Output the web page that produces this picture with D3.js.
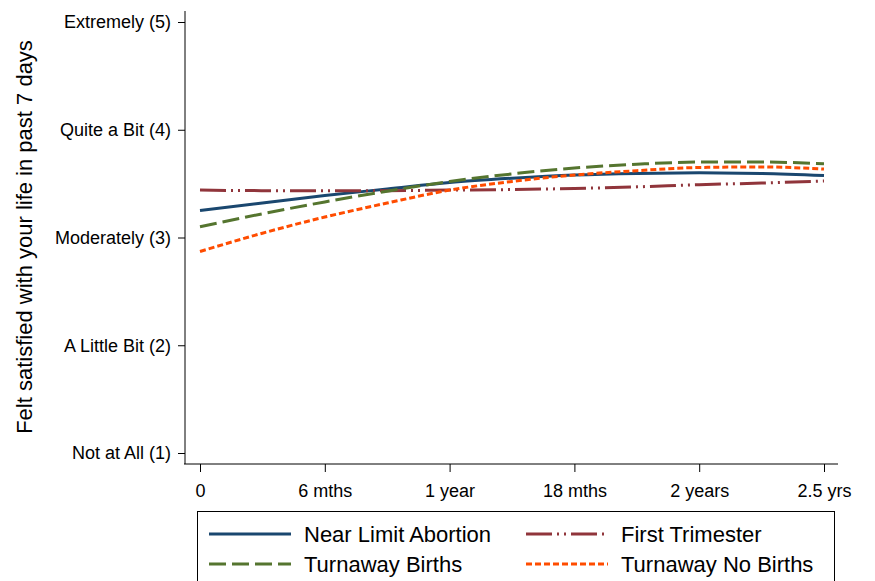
<!DOCTYPE html>
<html>
<head>
<meta charset="utf-8">
<script src="https://cdn.jsdelivr.net/npm/d3@7"></script>
<style>
  body { margin: 0; background: #fff; }
  text { font-family: "Liberation Sans", Arial, sans-serif; fill: #000; }
</style>
</head>
<body>
<script>
// months since baseline
var months = [0, 3, 6, 9, 12, 15, 18, 21, 24, 27, 30];
var xTicks = [0, 6, 12, 18, 24, 30];
var xTickLabels = ['0', '6 mths', '1 year', '18 mths', '2 years', '2.5 yrs'];
var yTicks = [1, 2, 3, 4, 5];
var yTickLabels = ['Not at All (1)', 'A Little Bit (2)', 'Moderately (3)', 'Quite a Bit (4)', 'Extremely (5)'];

var nearLimit = [3.25, 3.32, 3.39, 3.45, 3.51, 3.55, 3.58, 3.595, 3.60, 3.595, 3.575];
var firstTri = [3.44, 3.435, 3.435, 3.435, 3.44, 3.445, 3.455, 3.47, 3.49, 3.505, 3.525];
var turnBirths = [3.10, 3.22, 3.33, 3.43, 3.52, 3.59, 3.645, 3.68, 3.70, 3.70, 3.685];
var turnNoBirths = [2.87, 3.04, 3.19, 3.32, 3.44, 3.52, 3.58, 3.62, 3.65, 3.655, 3.635];

var series = [
  {name: 'Near Limit Abortion', values: nearLimit, color: '#1a476f', dash: null},
  {name: 'First Trimester', values: firstTri, color: '#90353b', dash: '26,5,2,5,2,5'},
  {name: 'Turnaway Births', values: turnBirths, color: '#55752f', dash: '17,6'},
  {name: 'Turnaway No Births', values: turnNoBirths, color: '#ff4c00', dash: '6,3'}
];

var w = 875, h = 581;
var svg = d3.select('body').append('svg')
    .attr('width', w)
    .attr('height', h);

var x = d3.scaleLinear().domain([0, 30]).range([200, 824]);
var y = d3.scaleLinear().domain([1, 5]).range([453, 22]);

// y axis
var yAxis = d3.axisLeft(y)
    .tickValues(yTicks)
    .tickSize(7)
    .tickPadding(7)
    .tickFormat(function(d, i){ return yTickLabels[i]; });
var gy = svg.append('g').attr('transform', 'translate(185,0)').call(yAxis);
gy.select('.domain').attr('d', 'M0,11V464');
gy.selectAll('text').attr('font-size', '18px');

// x axis
var xAxis = d3.axisBottom(x)
    .tickValues(xTicks)
    .tickSize(8)
    .tickPadding(12)
    .tickFormat(function(d, i){ return xTickLabels[i]; });
var gx = svg.append('g').attr('transform', 'translate(0,464)').call(xAxis);
gx.select('.domain').attr('d', 'M184,0H838');
gx.selectAll('text').attr('font-size', '18px');
svg.selectAll('.domain, .tick line').attr('stroke', '#000');

// y title
svg.append('text')
    .attr('transform', 'translate(32,237) rotate(-90)')
    .attr('text-anchor', 'middle')
    .attr('font-size', '22px')
    .text('Felt satisfied with your life in past 7 days');

// lines
var line = d3.line()
    .x(function(d, i){ return x(months[i]); })
    .y(function(d){ return y(d); })
    .curve(d3.curveMonotoneX);

svg.selectAll('path.series')
    .data(series)
    .enter()
    .append('path')
    .attr('class', 'series')
    .attr('d', function(d){ return line(d.values); })
    .attr('fill', 'none')
    .attr('stroke', function(d){ return d.color; })
    .attr('stroke-width', 3)
    .attr('stroke-dasharray', function(d){ return d.dash; });

// legend
var leg = svg.append('g');
leg.append('rect')
    .attr('x', 197.5).attr('y', 511.5)
    .attr('width', 637).attr('height', 80)
    .attr('fill', '#fff').attr('stroke', '#000');

var legPos = [[209, 534], [526, 534], [209, 564], [526, 564]];
var items = leg.selectAll('g.item')
    .data(series)
    .enter()
    .append('g')
    .attr('transform', function(d, i){ return 'translate(' + legPos[i][0] + ',' + legPos[i][1] + ')'; });
items.append('line')
    .attr('x1', 0).attr('x2', 82)
    .attr('stroke', function(d){ return d.color; })
    .attr('stroke-width', 3)
    .attr('stroke-dasharray', function(d){ return d.dash; });
items.append('text')
    .attr('x', 95).attr('y', 8)
    .attr('font-size', '22px')
    .text(function(d){ return d.name; });
</script>
</body>
</html>
